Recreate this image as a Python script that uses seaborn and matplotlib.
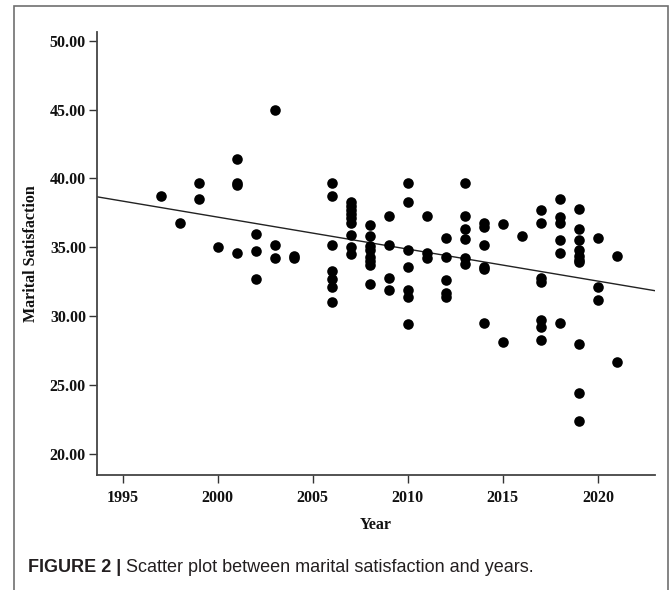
import matplotlib
matplotlib.use("Agg")
import matplotlib.pyplot as plt
import seaborn as sns
import pandas as pd
from matplotlib.patches import Rectangle

# ---- data ----
years = (
    [1997] + [1998] + [1999] * 2 + [2000] + [2001] * 4 + [2002] * 3 + [2003] * 3 + [2004] * 2
    + [2006] * 7 + [2007] * 9 + [2008] * 8 + [2009] * 4 + [2010] * 7 + [2011] * 3
    + [2012] * 5 + [2013] * 6 + [2014] * 6 + [2015] * 2 + [2016] + [2017] * 7
    + [2018] * 6 + [2019] * 10 + [2020] * 3 + [2021] * 2
)
satisfaction = [
    38.7,
    36.8,
    39.7, 38.5,
    35.0,
    41.4, 39.7, 39.5, 34.6,
    36.0, 34.7, 32.7,
    45.0, 35.2, 34.2,
    34.4, 34.2,
    39.7, 38.7, 35.2, 33.3, 32.7, 32.1, 31.0,
    38.3, 38.0, 37.7, 37.4, 37.1, 36.8, 35.9, 35.0, 34.5,
    36.6, 35.8, 35.1, 34.8, 34.3, 34.0, 33.7, 32.3,
    37.3, 35.2, 32.8, 31.9,
    39.7, 38.3, 34.8, 33.6, 31.9, 31.4, 29.4,
    37.3, 34.6, 34.2,
    35.7, 34.3, 32.6, 31.7, 31.4,
    39.7, 37.3, 36.3, 35.6, 34.2, 33.8,
    36.8, 36.5, 35.2, 33.6, 33.4, 29.5,
    36.7, 28.1,
    35.8,
    37.7, 36.8, 32.8, 32.5, 29.7, 29.2, 28.3,
    38.5, 37.2, 36.8, 35.5, 34.6, 29.5,
    37.8, 36.3, 35.5, 34.8, 34.4, 34.1, 33.9, 28.0, 24.4, 22.4,
    35.7, 32.1, 31.2,
    34.4, 26.7,
]
x_ticks = [1995, 2000, 2005, 2010, 2015, 2020]
y_ticks = [20, 25, 30, 35, 40, 45, 50]
x_label = "Year"
y_label = "Marital Satisfaction"
caption_bold = "FIGURE 2 |"
caption_text = " Scatter plot between marital satisfaction and years."

df = pd.DataFrame({"Year": years, "Marital Satisfaction": satisfaction})

sns.set_theme(style="white")
plt.rcParams["font.family"] = ["Liberation Serif", "DejaVu Serif"]

fig = plt.figure(figsize=(6.7, 5.9), dpi=100)
ax = fig.add_axes([97 / 670, 1 - 475 / 590, (655 - 97) / 670, (475 - 32) / 590])

ax.set_xlim(1993.65, 2023.0)
ax.set_ylim(18.47, 50.63)

sns.scatterplot(data=df, x="Year", y="Marital Satisfaction", ax=ax,
                color="black", s=58, edgecolor="black", linewidth=0, zorder=3)
sns.regplot(data=df, x="Year", y="Marital Satisfaction", ax=ax, scatter=False,
            ci=None, truncate=False, color="#222222", line_kws={"linewidth": 1.0})
ax.set_xlim(1993.65, 2023.0)
ax.set_ylim(18.47, 50.63)

ax.set_xticks(x_ticks)
ax.set_xticklabels([str(t) for t in x_ticks])
ax.set_yticks(y_ticks)
ax.set_yticklabels([f"{t:.2f}" for t in y_ticks])

for lab in ax.get_xticklabels() + ax.get_yticklabels():
    lab.set_fontweight("bold")
    lab.set_fontsize(11.5)
    lab.set_color("#111111")

ax.tick_params(axis="both", which="major", direction="out", length=6, width=1.0,
               color="#333333", bottom=True, left=True, pad=2)
ax.xaxis.set_tick_params(pad=5)

for side in ["top", "right"]:
    ax.spines[side].set_visible(False)
for side in ["left", "bottom"]:
    ax.spines[side].set_color("#444444")
    ax.spines[side].set_linewidth(1.3)

ax.set_xlabel(x_label, fontsize=11.5, fontweight="bold", color="#111111", labelpad=8)
ax.set_ylabel(y_label, fontsize=11.5, fontweight="bold", color="#111111", labelpad=8)

# outer frame (top, left, right; open at the bottom)
frame = Rectangle((14 / 670, -0.05), (668 - 14) / 670, 1.05 - 6 / 590,
                  transform=fig.transFigure, fill=False, edgecolor="#707070",
                  linewidth=1.2, clip_on=False)
fig.patches.append(frame)

t1 = fig.text(28 / 670, 1 - 568 / 590, caption_bold, fontsize=13, fontweight="bold",
              family=["Liberation Sans", "DejaVu Sans"], color="#231f20", va="center")
fig.canvas.draw()
bb = t1.get_window_extent()
x2 = bb.x1 / fig.bbox.width
fig.text(x2, 1 - 568 / 590, caption_text, fontsize=13,
         family=["Liberation Sans", "DejaVu Sans"], color="#231f20", va="center")

fig.savefig("out.png", dpi=100)
